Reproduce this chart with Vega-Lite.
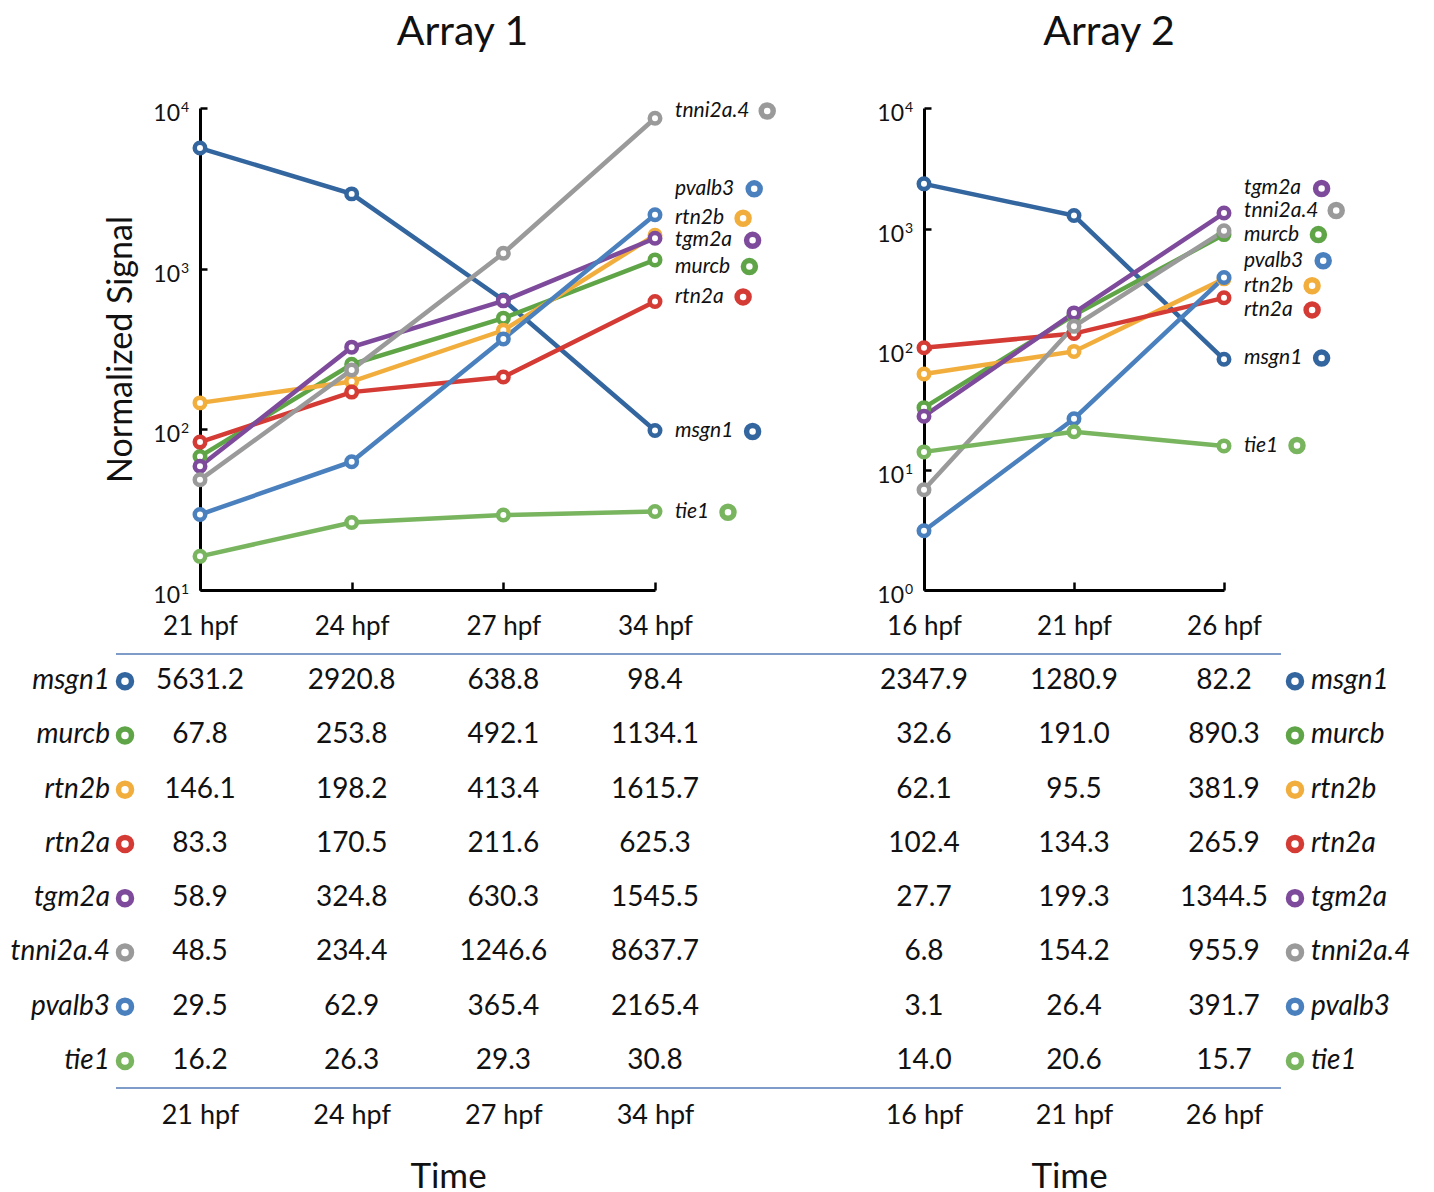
{
  "$schema": "https://vega.github.io/schema/vega-lite/v6.json",
  "background": "white",
  "padding": {"left": 10, "top": 11, "right": 5, "bottom": 0},
  "config": {
    "font": "Lato",
    "view": {"stroke": null},
    "axis": {"labelFont": "Lato", "titleFont": "Lato", "labelColor": "#111", "titleColor": "#111", "grid": false},
    "title": {"font": "Lato", "fontSize": 41, "fontWeight": "normal", "color": "#111"}
  },
  "datasets": {
    "a1": [
      {"gene": "msgn1", "time": "21 hpf", "value": 5631.2}, {"gene": "msgn1", "time": "24 hpf", "value": 2920.8}, {"gene": "msgn1", "time": "27 hpf", "value": 638.8}, {"gene": "msgn1", "time": "34 hpf", "value": 98.4},
      {"gene": "murcb", "time": "21 hpf", "value": 67.8}, {"gene": "murcb", "time": "24 hpf", "value": 253.8}, {"gene": "murcb", "time": "27 hpf", "value": 492.1}, {"gene": "murcb", "time": "34 hpf", "value": 1134.1},
      {"gene": "rtn2b", "time": "21 hpf", "value": 146.1}, {"gene": "rtn2b", "time": "24 hpf", "value": 198.2}, {"gene": "rtn2b", "time": "27 hpf", "value": 413.4}, {"gene": "rtn2b", "time": "34 hpf", "value": 1615.7},
      {"gene": "rtn2a", "time": "21 hpf", "value": 83.3}, {"gene": "rtn2a", "time": "24 hpf", "value": 170.5}, {"gene": "rtn2a", "time": "27 hpf", "value": 211.6}, {"gene": "rtn2a", "time": "34 hpf", "value": 625.3},
      {"gene": "tgm2a", "time": "21 hpf", "value": 58.9}, {"gene": "tgm2a", "time": "24 hpf", "value": 324.8}, {"gene": "tgm2a", "time": "27 hpf", "value": 630.3}, {"gene": "tgm2a", "time": "34 hpf", "value": 1545.5},
      {"gene": "tnni2a.4", "time": "21 hpf", "value": 48.5}, {"gene": "tnni2a.4", "time": "24 hpf", "value": 234.4}, {"gene": "tnni2a.4", "time": "27 hpf", "value": 1246.6}, {"gene": "tnni2a.4", "time": "34 hpf", "value": 8637.7},
      {"gene": "pvalb3", "time": "21 hpf", "value": 29.5}, {"gene": "pvalb3", "time": "24 hpf", "value": 62.9}, {"gene": "pvalb3", "time": "27 hpf", "value": 365.4}, {"gene": "pvalb3", "time": "34 hpf", "value": 2165.4},
      {"gene": "tie1", "time": "21 hpf", "value": 16.2}, {"gene": "tie1", "time": "24 hpf", "value": 26.3}, {"gene": "tie1", "time": "27 hpf", "value": 29.3}, {"gene": "tie1", "time": "34 hpf", "value": 30.8}
    ],
    "a2": [
      {"gene": "msgn1", "time": "16 hpf", "value": 2347.9}, {"gene": "msgn1", "time": "21 hpf", "value": 1280.9}, {"gene": "msgn1", "time": "26 hpf", "value": 82.2},
      {"gene": "murcb", "time": "16 hpf", "value": 32.6}, {"gene": "murcb", "time": "21 hpf", "value": 191.0}, {"gene": "murcb", "time": "26 hpf", "value": 890.3},
      {"gene": "rtn2b", "time": "16 hpf", "value": 62.1}, {"gene": "rtn2b", "time": "21 hpf", "value": 95.5}, {"gene": "rtn2b", "time": "26 hpf", "value": 381.9},
      {"gene": "rtn2a", "time": "16 hpf", "value": 102.4}, {"gene": "rtn2a", "time": "21 hpf", "value": 134.3}, {"gene": "rtn2a", "time": "26 hpf", "value": 265.9},
      {"gene": "tgm2a", "time": "16 hpf", "value": 27.7}, {"gene": "tgm2a", "time": "21 hpf", "value": 199.3}, {"gene": "tgm2a", "time": "26 hpf", "value": 1344.5},
      {"gene": "tnni2a.4", "time": "16 hpf", "value": 6.8}, {"gene": "tnni2a.4", "time": "21 hpf", "value": 154.2}, {"gene": "tnni2a.4", "time": "26 hpf", "value": 955.9},
      {"gene": "pvalb3", "time": "16 hpf", "value": 3.1}, {"gene": "pvalb3", "time": "21 hpf", "value": 26.4}, {"gene": "pvalb3", "time": "26 hpf", "value": 391.7},
      {"gene": "tie1", "time": "16 hpf", "value": 14.0}, {"gene": "tie1", "time": "21 hpf", "value": 20.6}, {"gene": "tie1", "time": "26 hpf", "value": 15.7}
    ],
    "l1": [
      {"gene": "tnni2a.4", "time": "34 hpf", "label_at": 9580},
      {"gene": "pvalb3", "time": "34 hpf", "label_at": 3140},
      {"gene": "rtn2b", "time": "34 hpf", "label_at": 2060},
      {"gene": "tgm2a", "time": "34 hpf", "label_at": 1500},
      {"gene": "murcb", "time": "34 hpf", "label_at": 1030},
      {"gene": "rtn2a", "time": "34 hpf", "label_at": 667},
      {"gene": "msgn1", "time": "34 hpf", "label_at": 97},
      {"gene": "tie1", "time": "34 hpf", "label_at": 30.5}
    ],
    "l2": [
      {"gene": "tgm2a", "time": "26 hpf", "label_at": 2150},
      {"gene": "tnni2a.4", "time": "26 hpf", "label_at": 1410},
      {"gene": "murcb", "time": "26 hpf", "label_at": 890},
      {"gene": "pvalb3", "time": "26 hpf", "label_at": 540},
      {"gene": "rtn2b", "time": "26 hpf", "label_at": 335},
      {"gene": "rtn2a", "time": "26 hpf", "label_at": 211},
      {"gene": "msgn1", "time": "26 hpf", "label_at": 84},
      {"gene": "tie1", "time": "26 hpf", "label_at": 15.8}
    ],
    "t1": [
      {"tick": 10, "power": "1"}, {"tick": 100, "power": "2"}, {"tick": 1000, "power": "3"}, {"tick": 10000, "power": "4"}
    ],
    "t2": [
      {"tick": 1, "power": "0"}, {"tick": 10, "power": "1"}, {"tick": 100, "power": "2"}, {"tick": 1000, "power": "3"}, {"tick": 10000, "power": "4"}
    ],
    "one": [{}]
  },
  "columns": 2,
  "spacing": {"column": -3, "row": 14},
  "concat": [
    {
      "title": {"text": "Array 1", "frame": "group", "dx": 35, "offset": 40},
      "width": 455, "height": 482,
      "layer": [
        {
          "data": {"name": "a1"},
          "mark": {"type": "line", "strokeWidth": 4.5},
          "encoding": {
            "x": {"field": "time", "type": "ordinal", "scale": {"type": "point", "padding": 0, "domain": ["21 hpf", "24 hpf", "27 hpf", "34 hpf"]},
                  "axis": {"title": null, "labelAngle": 0, "labelFontSize": 26, "labelPadding": 31, "tickSize": -8, "tickWidth": 2.5, "tickColor": "black", "domainColor": "black", "domainWidth": 3}},
            "y": {"field": "value", "type": "quantitative", "scale": {"type": "log", "domain": [10, 10000], "nice": false},
                  "axis": {"title": "Normalized Signal", "titleFontSize": 34, "titleFontWeight": "normal", "titlePadding": 60, "values": [10, 100, 1000, 10000],
                           "labels": false, "tickSize": -7, "tickWidth": 2.5, "tickColor": "black", "domainColor": "black", "domainWidth": 3}},
            "color": {"field": "gene", "type": "nominal", "legend": null,
                      "scale": {"domain": ["msgn1", "murcb", "rtn2b", "rtn2a", "tgm2a", "tnni2a.4", "pvalb3", "tie1"], "range": ["#33659f", "#5fa547", "#f2ae3d", "#d53b35", "#7e4a9b", "#9a9a9a", "#4a80bd", "#79b55f"]}}
          }
        },
        {
          "data": {"name": "t1"},
          "mark": {"type": "text", "align": "right", "baseline": "middle", "dx": -20, "dy": 6, "fontSize": 23, "color": "#111"},
          "encoding": {"x": {"datum": "21 hpf"}, "y": {"field": "tick", "type": "quantitative"}, "text": {"value": "10"}}
        },
        {
          "data": {"name": "t1"},
          "mark": {"type": "text", "align": "left", "baseline": "middle", "dx": -19, "dy": 0, "fontSize": 14, "color": "#111"},
          "encoding": {"x": {"datum": "21 hpf"}, "y": {"field": "tick", "type": "quantitative"}, "text": {"field": "power"}}
        },
        {
          "data": {"name": "a1"},
          "mark": {"type": "point", "shape": "circle", "fill": "white", "fillOpacity": 1, "opacity": 1, "size": 110, "strokeWidth": 4.5},
          "encoding": {
            "x": {"field": "time", "type": "ordinal"},
            "y": {"field": "value", "type": "quantitative"},
            "stroke": {"field": "gene", "type": "nominal", "legend": null,
                       "scale": {"domain": ["msgn1", "murcb", "rtn2b", "rtn2a", "tgm2a", "tnni2a.4", "pvalb3", "tie1"], "range": ["#33659f", "#5fa547", "#f2ae3d", "#d53b35", "#7e4a9b", "#9a9a9a", "#4a80bd", "#79b55f"]}}
          }
        },
        {
          "data": {"name": "l1"},
          "mark": {"type": "text", "align": "left", "dx": 20, "fontSize": 21, "fontStyle": "italic", "color": "#111"},
          "encoding": {
            "x": {"field": "time", "type": "ordinal"},
            "y": {"field": "label_at", "type": "quantitative"},
            "text": {"field": "gene"}
          }
        },
        {
          "data": {"name": "l1"},
          "mark": {"type": "point", "shape": "circle", "fill": "white", "fillOpacity": 1, "opacity": 1, "size": 144, "strokeWidth": 5.5,
                   "xOffset": {"expr": "37 + 11.5*length(datum.gene) + 6.3*(length(datum.gene) - length(replace(datum.gene, regexp('m','g'), ''))) - 3.2*(length(datum.gene) - length(replace(datum.gene, regexp('[rtsc]','g'), ''))) - 6.8*(length(datum.gene) - length(replace(datum.gene, regexp('[il.]','g'), '')))"}},
          "encoding": {
            "x": {"field": "time", "type": "ordinal"},
            "y": {"field": "label_at", "type": "quantitative"},
            "stroke": {"field": "gene", "type": "nominal", "legend": null,
                       "scale": {"domain": ["msgn1", "murcb", "rtn2b", "rtn2a", "tgm2a", "tnni2a.4", "pvalb3", "tie1"], "range": ["#33659f", "#5fa547", "#f2ae3d", "#d53b35", "#7e4a9b", "#9a9a9a", "#4a80bd", "#79b55f"]}}
          }
        }
      ]
    },
    {
      "title": {"text": "Array 2", "frame": "group", "dx": 35, "offset": 47},
      "width": 300, "height": 482,
      "layer": [
        {
          "data": {"name": "a2"},
          "mark": {"type": "line", "strokeWidth": 4.5},
          "encoding": {
            "x": {"field": "time", "type": "ordinal", "scale": {"type": "point", "padding": 0, "domain": ["16 hpf", "21 hpf", "26 hpf"]},
                  "axis": {"title": null, "labelAngle": 0, "labelFontSize": 26, "labelPadding": 31, "tickSize": -8, "tickWidth": 2.5, "tickColor": "black", "domainColor": "black", "domainWidth": 3}},
            "y": {"field": "value", "type": "quantitative", "scale": {"type": "log", "domain": [1, 10000], "nice": false},
                  "axis": {"title": null, "values": [1, 10, 100, 1000, 10000],
                           "labels": false, "tickSize": -7, "tickWidth": 2.5, "tickColor": "black", "domainColor": "black", "domainWidth": 3}},
            "color": {"field": "gene", "type": "nominal", "legend": null,
                      "scale": {"domain": ["msgn1", "murcb", "rtn2b", "rtn2a", "tgm2a", "tnni2a.4", "pvalb3", "tie1"], "range": ["#33659f", "#5fa547", "#f2ae3d", "#d53b35", "#7e4a9b", "#9a9a9a", "#4a80bd", "#79b55f"]}}
          }
        },
        {
          "data": {"name": "t2"},
          "mark": {"type": "text", "align": "right", "baseline": "middle", "dx": -20, "dy": 6, "fontSize": 23, "color": "#111"},
          "encoding": {"x": {"datum": "16 hpf"}, "y": {"field": "tick", "type": "quantitative"}, "text": {"value": "10"}}
        },
        {
          "data": {"name": "t2"},
          "mark": {"type": "text", "align": "left", "baseline": "middle", "dx": -19, "dy": 0, "fontSize": 14, "color": "#111"},
          "encoding": {"x": {"datum": "16 hpf"}, "y": {"field": "tick", "type": "quantitative"}, "text": {"field": "power"}}
        },
        {
          "data": {"name": "a2"},
          "mark": {"type": "point", "shape": "circle", "fill": "white", "fillOpacity": 1, "opacity": 1, "size": 110, "strokeWidth": 4.5},
          "encoding": {
            "x": {"field": "time", "type": "ordinal"},
            "y": {"field": "value", "type": "quantitative"},
            "stroke": {"field": "gene", "type": "nominal", "legend": null,
                       "scale": {"domain": ["msgn1", "murcb", "rtn2b", "rtn2a", "tgm2a", "tnni2a.4", "pvalb3", "tie1"], "range": ["#33659f", "#5fa547", "#f2ae3d", "#d53b35", "#7e4a9b", "#9a9a9a", "#4a80bd", "#79b55f"]}}
          }
        },
        {
          "data": {"name": "l2"},
          "mark": {"type": "text", "align": "left", "dx": 20, "fontSize": 21, "fontStyle": "italic", "color": "#111"},
          "encoding": {
            "x": {"field": "time", "type": "ordinal"},
            "y": {"field": "label_at", "type": "quantitative"},
            "text": {"field": "gene"}
          }
        },
        {
          "data": {"name": "l2"},
          "mark": {"type": "point", "shape": "circle", "fill": "white", "fillOpacity": 1, "opacity": 1, "size": 144, "strokeWidth": 5.5,
                   "xOffset": {"expr": "37 + 11.5*length(datum.gene) + 6.3*(length(datum.gene) - length(replace(datum.gene, regexp('m','g'), ''))) - 3.2*(length(datum.gene) - length(replace(datum.gene, regexp('[rtsc]','g'), ''))) - 6.8*(length(datum.gene) - length(replace(datum.gene, regexp('[il.]','g'), '')))"}},
          "encoding": {
            "x": {"field": "time", "type": "ordinal"},
            "y": {"field": "label_at", "type": "quantitative"},
            "stroke": {"field": "gene", "type": "nominal", "legend": null,
                       "scale": {"domain": ["msgn1", "murcb", "rtn2b", "rtn2a", "tgm2a", "tnni2a.4", "pvalb3", "tie1"], "range": ["#33659f", "#5fa547", "#f2ae3d", "#d53b35", "#7e4a9b", "#9a9a9a", "#4a80bd", "#79b55f"]}}
          }
        }
      ]
    },
    {
      "width": 455, "height": 434,
      "data": {"name": "a1"},
      "layer": [
        {
          "mark": {"type": "text", "fontSize": 28, "color": "#111"},
          "encoding": {
            "x": {"field": "time", "type": "ordinal", "scale": {"type": "point", "padding": 0, "domain": ["21 hpf", "24 hpf", "27 hpf", "34 hpf"]},
                  "axis": {"orient": "bottom", "title": "Time", "titleFontSize": 35, "titleFontWeight": "normal", "titlePadding": 31, "titleX": 248, "labelAngle": 0, "labelFontSize": 27, "labelPadding": 14, "domain": false, "ticks": false}},
            "y": {"field": "gene", "type": "nominal", "scale": {"type": "band", "domain": ["msgn1", "murcb", "rtn2b", "rtn2a", "tgm2a", "tnni2a.4", "pvalb3", "tie1"], "paddingInner": 0, "paddingOuter": 0}, "axis": null},
            "text": {"field": "value", "type": "quantitative", "format": ".1f"}
          }
        },
        {
          "transform": [{"filter": "datum.time === '21 hpf'"}],
          "mark": {"type": "text", "align": "right", "dx": -90, "fontSize": 28, "fontStyle": "italic", "color": "#111"},
          "encoding": {
            "x": {"field": "time", "type": "ordinal"},
            "y": {"field": "gene", "type": "nominal"},
            "text": {"field": "gene"}
          }
        },
        {
          "transform": [{"filter": "datum.time === '21 hpf'"}],
          "mark": {"type": "point", "shape": "circle", "fill": "white", "fillOpacity": 1, "opacity": 1, "size": 169, "strokeWidth": 5.5, "xOffset": -75},
          "encoding": {
            "x": {"field": "time", "type": "ordinal"},
            "y": {"field": "gene", "type": "nominal"},
            "stroke": {"field": "gene", "type": "nominal", "legend": null,
                       "scale": {"domain": ["msgn1", "murcb", "rtn2b", "rtn2a", "tgm2a", "tnni2a.4", "pvalb3", "tie1"], "range": ["#33659f", "#5fa547", "#f2ae3d", "#d53b35", "#7e4a9b", "#9a9a9a", "#4a80bd", "#79b55f"]}}
          }
        },
        {
          "data": {"name": "one"},
          "mark": {"type": "rule", "color": "#7f9cc8", "strokeWidth": 2, "xOffset": -84, "x2Offset": 135},
          "encoding": {"x": {"datum": "21 hpf"}, "x2": {"datum": "34 hpf"}, "y": {"datum": "msgn1", "bandPosition": 0}}
        },
        {
          "data": {"name": "one"},
          "mark": {"type": "rule", "color": "#7f9cc8", "strokeWidth": 2, "xOffset": -84, "x2Offset": 135},
          "encoding": {"x": {"datum": "21 hpf"}, "x2": {"datum": "34 hpf"}, "y": {"datum": "tie1", "bandPosition": 1}}
        }
      ]
    },
    {
      "width": 300, "height": 434,
      "data": {"name": "a2"},
      "layer": [
        {
          "mark": {"type": "text", "fontSize": 28, "color": "#111"},
          "encoding": {
            "x": {"field": "time", "type": "ordinal", "scale": {"type": "point", "padding": 0, "domain": ["16 hpf", "21 hpf", "26 hpf"]},
                  "axis": {"orient": "bottom", "title": "Time", "titleFontSize": 35, "titleFontWeight": "normal", "titlePadding": 31, "titleX": 145, "labelAngle": 0, "labelFontSize": 27, "labelPadding": 14, "domain": false, "ticks": false}},
            "y": {"field": "gene", "type": "nominal", "scale": {"type": "band", "domain": ["msgn1", "murcb", "rtn2b", "rtn2a", "tgm2a", "tnni2a.4", "pvalb3", "tie1"], "paddingInner": 0, "paddingOuter": 0}, "axis": null},
            "text": {"field": "value", "type": "quantitative", "format": ".1f"}
          }
        },
        {
          "transform": [{"filter": "datum.time === '26 hpf'"}],
          "mark": {"type": "text", "align": "left", "dx": 87, "fontSize": 28, "fontStyle": "italic", "color": "#111"},
          "encoding": {
            "x": {"field": "time", "type": "ordinal"},
            "y": {"field": "gene", "type": "nominal"},
            "text": {"field": "gene"}
          }
        },
        {
          "transform": [{"filter": "datum.time === '26 hpf'"}],
          "mark": {"type": "point", "shape": "circle", "fill": "white", "fillOpacity": 1, "opacity": 1, "size": 169, "strokeWidth": 5.5, "xOffset": 71},
          "encoding": {
            "x": {"field": "time", "type": "ordinal"},
            "y": {"field": "gene", "type": "nominal"},
            "stroke": {"field": "gene", "type": "nominal", "legend": null,
                       "scale": {"domain": ["msgn1", "murcb", "rtn2b", "rtn2a", "tgm2a", "tnni2a.4", "pvalb3", "tie1"], "range": ["#33659f", "#5fa547", "#f2ae3d", "#d53b35", "#7e4a9b", "#9a9a9a", "#4a80bd", "#79b55f"]}}
          }
        },
        {
          "data": {"name": "one"},
          "mark": {"type": "rule", "color": "#7f9cc8", "strokeWidth": 2, "xOffset": -135, "x2Offset": 57},
          "encoding": {"x": {"datum": "16 hpf"}, "x2": {"datum": "26 hpf"}, "y": {"datum": "msgn1", "bandPosition": 0}}
        },
        {
          "data": {"name": "one"},
          "mark": {"type": "rule", "color": "#7f9cc8", "strokeWidth": 2, "xOffset": -135, "x2Offset": 57},
          "encoding": {"x": {"datum": "16 hpf"}, "x2": {"datum": "26 hpf"}, "y": {"datum": "tie1", "bandPosition": 1}}
        }
      ]
    }
  ]
}
